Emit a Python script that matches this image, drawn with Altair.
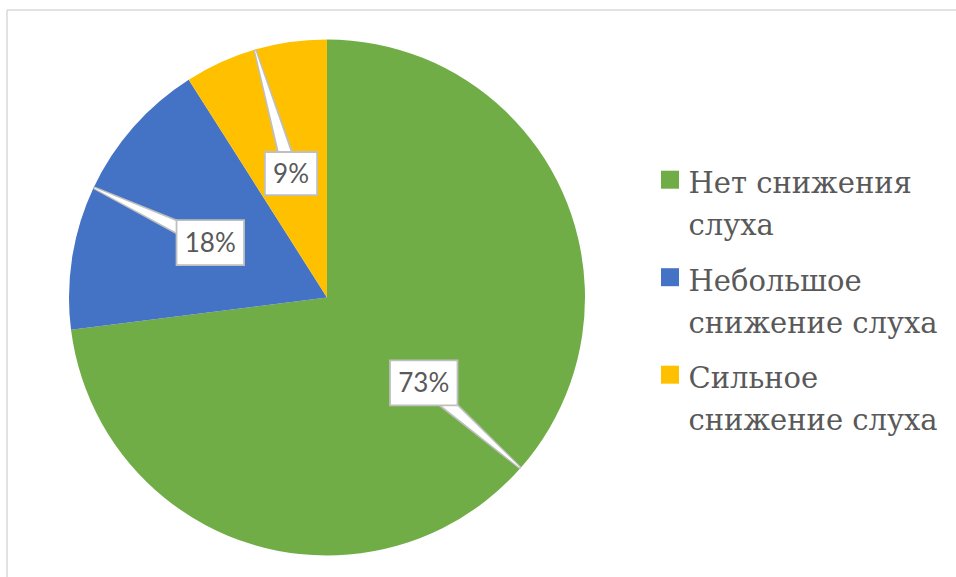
import math
import altair as alt
import pandas as pd

# ---- data ----
categories = ["Нет снижения\nслуха", "Небольшое\nснижение слуха", "Сильное\nснижение слуха"]
shares = [73, 18, 9]
pct_labels = ["73%", "18%", "9%"]
colors = ["#70AD47", "#4472C4", "#FFC000"]

# ---- layout (pixels, inside the view) ----
PAD_L, PAD_T = 7, 10
W, H = 949, 567
CX, CY = 320, 287.5
R = 258
LABEL_R = 0.5
LEG_SYM_X, LEG_SYM_Y0 = 663, 169.7
LEG_TXT_X, LEG_TXT_Y0 = 681.5, 183
LEG_STEP = 97.5

total = sum(shares)
rows = []
cum = 0
for i, (cat, v, lab) in enumerate(zip(categories, shares, pct_labels)):
    t0 = cum / total * 100
    cum += v
    t1 = cum / total * 100
    mid = (t0 + t1) / 2 / 100 * 2 * math.pi
    rows.append(dict(category=cat, share=v, label=lab, t0=t0, t1=t1,
                     lx=LABEL_R * math.sin(mid), ly=LABEL_R * math.cos(mid),
                     tx=0.995 * math.sin(mid), ty=0.995 * math.cos(mid),
                     sx=(LEG_SYM_X - CX) / R, sy=(CY - (LEG_SYM_Y0 + i * LEG_STEP)) / R,
                     gx=(LEG_TXT_X - CX) / R, gy=(CY - (LEG_TXT_Y0 + i * LEG_STEP)) / R))
df = pd.DataFrame(rows)

trail_rows = []
for r in rows:
    trail_rows.append(dict(label=r["label"], x=r["lx"], y=r["ly"], wo=18, wi=14, ord=0))
    trail_rows.append(dict(label=r["label"], x=r["tx"], y=r["ty"], wo=3, wi=0.5, ord=1))
tdf = pd.DataFrame(trail_rows)

xs = alt.Scale(domain=[-CX / R, (W - CX) / R], nice=False, zero=False)
ys = alt.Scale(domain=[(CY - H) / R, CY / R], nice=False, zero=False)
cscale = alt.Scale(domain=categories, range=colors)

wide = "M-1.5,-1L1.5,-1L1.5,1L-1.5,1Z"
narrow = "M-1.16,-0.96L1.16,-0.96L1.16,0.96L-1.16,0.96Z"

frame_df = pd.DataFrame({"a": [0]})
frame_top = alt.Chart(frame_df).mark_rule(color="#D9D9D9", strokeWidth=1.5).encode(
    x=alt.value(0), x2=alt.value(W), y=alt.value(0))
frame_left = alt.Chart(frame_df).mark_rule(color="#D9D9D9", strokeWidth=1.5).encode(
    x=alt.value(0), y=alt.value(0), y2=alt.value(H))

pie = alt.Chart(df).mark_arc(radius=R).encode(
    x=alt.XDatum(0, type="quantitative", scale=xs, axis=None),
    y=alt.YDatum(0, type="quantitative", scale=ys, axis=None),
    theta=alt.Theta("t0:Q", scale=alt.Scale(domain=[0, 100], range=[0, 2 * math.pi])),
    theta2="t1:Q",
    color=alt.Color("category:N", scale=cscale, legend=None),
)

trail_o = alt.Chart(tdf).mark_trail(color="#BFBFBF").encode(
    x=alt.X("x:Q", scale=xs, axis=None),
    y=alt.Y("y:Q", scale=ys, axis=None),
    size=alt.Size("wo:Q", scale=None),
    detail="label:N",
    order="ord:Q",
)
trail_i = alt.Chart(tdf).mark_trail(color="white").encode(
    x=alt.X("x:Q", scale=xs, axis=None),
    y=alt.Y("y:Q", scale=ys, axis=None),
    size=alt.Size("wi:Q", scale=None),
    detail="label:N",
    order="ord:Q",
)

boxes = alt.Chart(df).mark_point(filled=True, fill="white", stroke="#BFBFBF",
                                 strokeWidth=1.8, size=2025, opacity=1,
                                 fillOpacity=1, strokeOpacity=1).encode(
    x=alt.X("lx:Q", scale=xs, axis=None),
    y=alt.Y("ly:Q", scale=ys, axis=None),
    shape=alt.Shape("label:N", scale=alt.Scale(domain=pct_labels, range=[wide, wide, narrow]),
                    legend=None),
)

texts = alt.Chart(df).mark_text(font="Lato", fontSize=26, color="#595959", dy=1).encode(
    x=alt.X("lx:Q", scale=xs, axis=None),
    y=alt.Y("ly:Q", scale=ys, axis=None),
    text="label:N",
)

leg_sym = alt.Chart(df).mark_square(size=324, opacity=1).encode(
    x=alt.X("sx:Q", scale=xs, axis=None),
    y=alt.Y("sy:Q", scale=ys, axis=None),
    color=alt.Color("category:N", scale=cscale, legend=None),
)
leg_txt = alt.Chart(df).mark_text(font="DejaVu Serif", fontSize=29, color="#595959",
                                  align="left", baseline="alphabetic", lineBreak="\n",
                                  lineHeight=42).encode(
    x=alt.X("gx:Q", scale=xs, axis=None),
    y=alt.Y("gy:Q", scale=ys, axis=None),
    text="category:N",
)

chart = alt.layer(frame_top, frame_left, pie, trail_o, trail_i, boxes, texts,
                  leg_sym, leg_txt).properties(
    width=W, height=H,
    padding={"left": PAD_L, "top": PAD_T, "right": 0, "bottom": 0},
    autosize=alt.AutoSizeParams(type="none"),
    background="white",
).configure_view(stroke=None)

chart.save("out.html", embed_options={"renderer": "svg", "actions": False})
